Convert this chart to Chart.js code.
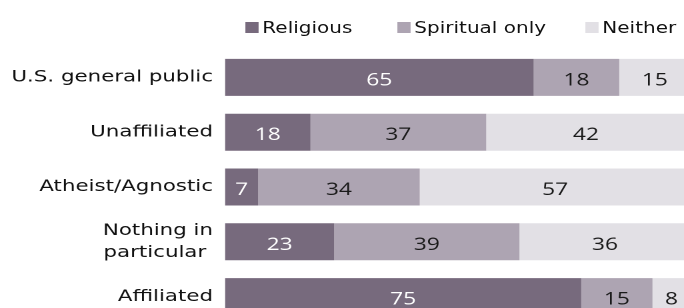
<!DOCTYPE html>
<html>
<head>
<meta charset="utf-8">
<script src="https://cdn.jsdelivr.net/npm/chart.js@4/dist/chart.umd.min.js"></script>
<style>
  html, body { margin: 0; padding: 0; background: #fff; overflow: hidden; width: 684px; height: 308px; }
  /* the reference is a 4:3 horizontally stretched picture, so draw narrow and stretch */
  #wrap { position: absolute; left: 0; top: 0; width: 525px; height: 344px; transform: scaleX(1.3333); transform-origin: 0 0; }
  #legend { position: absolute; left: 0; top: 17.5px; width: 525px; height: 20px;
            font: 15px "DejaVu Sans", Verdana, sans-serif; color: #111; }
  .item { position: absolute; top: 0; display: flex; align-items: center; white-space: nowrap; height: 20px; }
  .item:nth-child(1) { left: 183.75px; }
  .item:nth-child(2) { left: 297.75px; }
  .item:nth-child(3) { left: 438.75px; }
  .box { width: 10px; height: 10.7px; margin-right: 3px; flex: none; }
  #chart { position: absolute; left: 0; top: 0; }
</style>
</head>
<body>
<div id="wrap">
  <canvas id="chart" width="525" height="344"></canvas>
  <div id="legend"></div>
</div>
<script>
const categories = ['U.S. general public', 'Unaffiliated', 'Atheist/Agnostic', ['Nothing in', 'particular '], 'Affiliated'];
const seriesNames = ['Religious', 'Spiritual only', 'Neither'];
const religious = [65, 18, 7, 23, 75];
const spiritual = [18, 37, 34, 39, 15];
const neither = [15, 42, 57, 36, 8];

const colors = ['#776a7d', '#ada4b2', '#e2e0e5'];
const labelColors = ['#ffffff', '#1a1a1a', '#1a1a1a'];

// legend
const legend = document.getElementById('legend');
seriesNames.forEach((name, i) => {
  const it = document.createElement('div');
  it.className = 'item';
  const b = document.createElement('span');
  b.className = 'box';
  b.style.background = colors[i];
  const t = document.createElement('span');
  t.textContent = name;
  it.append(b, t);
  legend.appendChild(it);
});

// value labels centred in each segment
const valueLabels = {
  id: 'valueLabels',
  afterDatasetsDraw(chart){
    const ctx = chart.ctx;
    ctx.save();
    ctx.font = '17px "Open Sans", sans-serif';
    ctx.textAlign = 'center';
    ctx.textBaseline = 'alphabetic';
    chart.data.datasets.forEach((ds, di) => {
      const meta = chart.getDatasetMeta(di);
      ctx.fillStyle = labelColors[di];
      meta.data.forEach((bar, i) => {
        const v = ds.data[i];
        const cx = (bar.x + bar.base) / 2;
        ctx.fillText(String(v), cx, bar.y + 8);
      });
    });
    ctx.restore();
  }
};

new Chart(document.getElementById('chart'), {
  type: 'bar',
  data: {
    labels: categories,
    datasets: [
      { label: seriesNames[0], data: religious, backgroundColor: colors[0] },
      { label: seriesNames[1], data: spiritual, backgroundColor: colors[1] },
      { label: seriesNames[2], data: neither, backgroundColor: colors[2] },
    ]
  },
  options: {
    indexAxis: 'y',
    responsive: false,
    devicePixelRatio: 2,
    animation: false,
    layout: { padding: { top: 50, left: 0, right: 0, bottom: 0 } },
    datasets: { bar: { categoryPercentage: 1, barPercentage: 0.675, borderWidth: 0 } },
    plugins: { legend: { display: false }, tooltip: { enabled: false } },
    scales: {
      x: { stacked: true, min: 0, max: 100, display: false },
      y: {
        stacked: true,
        grid: { display: false, drawTicks: false },
        border: { display: false },
        ticks: { padding: 9, color: '#111', font: { family: '"DejaVu Sans", Verdana, sans-serif', size: 16, lineHeight: 1.375 } },
        afterFit(axis){ axis.width = 168.75; }
      }
    }
  },
  plugins: [valueLabels]
});
</script>
</body>
</html>
